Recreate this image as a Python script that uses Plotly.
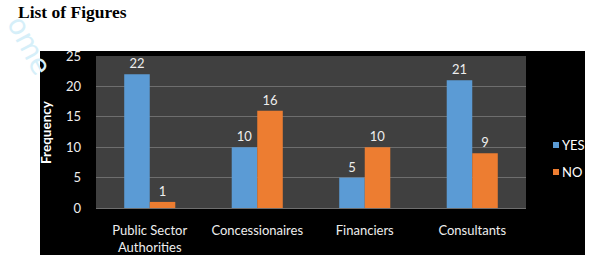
import plotly.graph_objects as go

categories = ["Public Sector<br>Authorities", "Concessionaires", "Financiers", "Consultants"]
series_names = ["YES", "NO"]
yes_values = [22, 10, 5, 21]
no_values = [1, 16, 10, 9]
y_ticks = [0, 5, 10, 15, 20, 25]
colors = ["#5B9BD5", "#ED7D31"]

W, H = 591, 255
L, R, T, B = 96, 65, 56, 47
pw, ph = W - L - R, H - T - B

def px_x(x):
    return (x - L) / pw

def px_y(y):
    return (H - B - y) / ph

font_family = "Lato, 'Open Sans', sans-serif"
tick_color = "#eeeeee"

fig = go.Figure()
for name, vals, col in zip(series_names, [yes_values, no_values], colors):
    fig.add_trace(go.Bar(
        x=categories, y=vals, name=name,
        marker=dict(color=col, line=dict(width=0)),
        text=vals, textposition="outside",
        textfont=dict(color=tick_color, size=13, family=font_family),
        cliponaxis=False, showlegend=False,
    ))

shapes = [
    dict(type="rect", xref="paper", yref="paper", layer="below",
         x0=px_x(40), x1=px_x(585), y0=px_y(256), y1=px_y(51),
         fillcolor="black", line=dict(width=0)),
    dict(type="rect", xref="paper", yref="paper", layer="below",
         x0=0, x1=1, y0=0, y1=1,
         fillcolor="#404040", line=dict(width=0)),
]
annotations = [
    dict(text="<b>Frequency</b>", xref="paper", yref="paper",
         x=px_x(46), y=px_y(132), textangle=-90, showarrow=False,
         font=dict(color="white", size=13.5, family=font_family),
         xanchor="center", yanchor="middle"),
    dict(text="ome", xref="paper", yref="paper",
         x=px_x(29), y=px_y(46), textangle=62, showarrow=False,
         font=dict(color="#d6eff9", size=28, family="DejaVu Sans"),
         xanchor="center", yanchor="middle"),
]
# legend (custom, to match the compact original spacing)
for i, (name, col) in enumerate(zip(series_names, colors)):
    cy = 145 + i * 27
    shapes.append(dict(type="rect", xref="paper", yref="paper",
                       x0=px_x(553), x1=px_x(559), y0=px_y(cy + 3), y1=px_y(cy - 3),
                       fillcolor=col, line=dict(width=0)))
    annotations.append(dict(text=name, xref="paper", yref="paper",
                            x=px_x(560), y=px_y(cy), showarrow=False,
                            xanchor="left", yanchor="middle",
                            font=dict(color="white", size=13, family=font_family)))

fig.update_layout(
    width=W, height=H,
    margin=dict(l=L, r=R, t=T, b=B, autoexpand=False),
    paper_bgcolor="white",
    plot_bgcolor="rgba(0,0,0,0)",
    barmode="group",
    bargap=0.525,
    bargroupgap=0,
    showlegend=False,
    title=dict(
        text="<b>List of Figures</b>",
        font=dict(family="Liberation Serif, Times New Roman, serif", size=17.5, color="black"),
        x=18 / W, xanchor="left", xref="container",
        y=1 - 12 / H, yanchor="middle", yref="container",
    ),
    xaxis=dict(
        showgrid=False, showline=False, zeroline=False,
        tickfont=dict(color=tick_color, size=13, family=font_family),
        ticks="", ticklabelstandoff=13, automargin=False,
    ),
    yaxis=dict(
        range=[0, 25], tickvals=y_ticks,
        showgrid=True, gridcolor="#6e6e6e", gridwidth=1,
        zeroline=True, zerolinecolor="#6e6e6e", zerolinewidth=1,
        showline=False, ticks="", automargin=False,
        tickfont=dict(color=tick_color, size=13, family=font_family),
        ticklabelstandoff=14,
    ),
    shapes=shapes,
    annotations=annotations,
)

fig.write_html("out.html")
